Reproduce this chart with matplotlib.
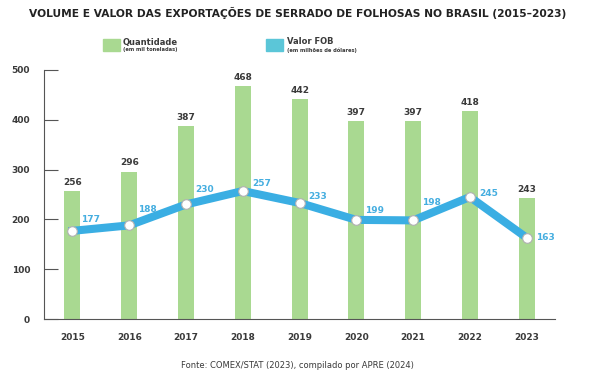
import numpy as np
import matplotlib
matplotlib.use("Agg")
import matplotlib.pyplot as plt
from matplotlib.patches import Rectangle

anos = ["2015", "2016", "2017", "2018", "2019", "2020", "2021", "2022", "2023"]
quantidade = [256, 296, 387, 468, 442, 397, 397, 418, 243]
valor_fob = [177, 188, 230, 257, 233, 199, 198, 245, 163]
yticks = [0, 100, 200, 300, 400, 500]

verde = "#a9d991"
azul = "#3aaee3"
azul_txt = "#45aee0"
cinza = "#3a3a3a"

plt.rcParams["font.family"] = ["DejaVu Sans"]
fig = plt.figure(figsize=(5.95, 3.78), dpi=100)
ax = fig.add_axes([0.074, 0.156, 0.859, 0.659])

x = np.arange(len(anos))
ax.bar(x, quantidade, width=0.28, color=verde, zorder=1)
for xi, q in zip(x, quantidade):
    ax.annotate(str(q), (xi, q), xytext=(0, 3), textcoords="offset points",
                ha="center", va="bottom", fontsize=6.5, fontweight="bold", color=cinza)

ax.plot(x, valor_fob, color=azul, lw=5.8, zorder=2, solid_joinstyle="miter")
ax.scatter(x, valor_fob, s=48, facecolor="white", edgecolor="#b0b0b0", lw=0.8, zorder=3)
# deslocamento dos rótulos da linha (pixels)
offsets = [(9, 11), (9, 16), (9, 15), (9, 7), (9, 6), (9, 9), (9, 18), (9, 3), (9, 0)]
for xi, v, off in zip(x, valor_fob, offsets):
    ax.annotate(str(v), (xi, v), xytext=off, textcoords="offset pixels",
                ha="left", va="center",
                fontsize=6.5, fontweight="bold", color=azul_txt)

ax.set_xlim(-0.5, len(anos) - 0.5)
ax.set_ylim(0, 500)
ax.set_xticks(x)
ax.set_xticklabels(anos, fontsize=6.5, fontweight="bold", color=cinza)
ax.set_yticks(yticks)
ax.set_yticklabels([str(t) for t in yticks], fontsize=6.5, fontweight="bold", color=cinza)
ax.tick_params(axis="x", length=0, pad=10)
ax.tick_params(axis="y", direction="in", length=10, width=0.8, color="#555555", pad=10)
for s in ["top", "right"]:
    ax.spines[s].set_visible(False)
for s in ["left", "bottom"]:
    ax.spines[s].set_color("#555555")
    ax.spines[s].set_linewidth(0.8)

fig.text(0.5, 0.965, "VOLUME E VALOR DAS EXPORTAÇÕES DE SERRADO DE FOLHOSAS NO BRASIL (2015–2023)",
         ha="center", va="center", fontsize=7.7, fontweight="bold", color="#222222")

# legenda
fig.patches.append(Rectangle((103 / 595, 1 - 51 / 378), 17 / 595, 12 / 378,
                             transform=fig.transFigure, color=verde))
fig.text(123 / 595, 1 - 42 / 378, "Quantidade", fontsize=6, fontweight="bold",
         color=cinza, va="center")
fig.text(123 / 595, 1 - 50 / 378, "(em mil toneladas)", fontsize=3.7, fontweight="bold",
         color=cinza, va="center")
fig.patches.append(Rectangle((266 / 595, 1 - 51 / 378), 17 / 595, 12 / 378,
                             transform=fig.transFigure, color="#5bc6d8"))
fig.text(287 / 595, 1 - 42 / 378, "Valor FOB", fontsize=6, fontweight="bold",
         color=cinza, va="center")
fig.text(287 / 595, 1 - 50 / 378, "(em milhões de dólares)", fontsize=3.7, fontweight="bold",
         color=cinza, va="center")

fig.text(0.5, 1 - 366 / 378, "Fonte: COMEX/STAT (2023), compilado por APRE (2024)",
         ha="center", va="center", fontsize=6, color=cinza)

fig.savefig("out.png", dpi=100)
